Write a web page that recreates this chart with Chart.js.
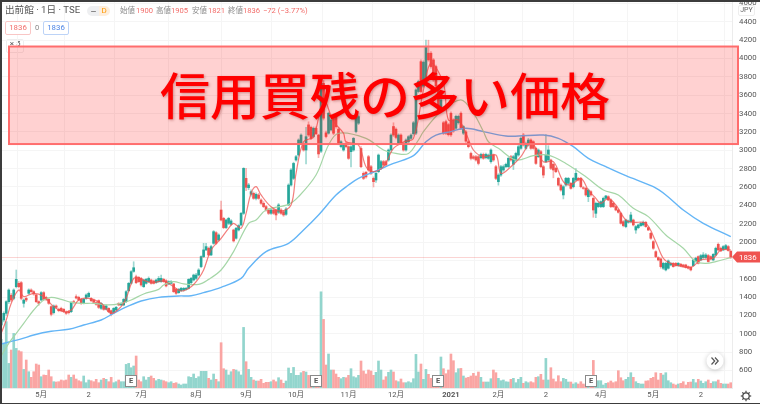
<!DOCTYPE html>
<html>
<head>
<meta charset="utf-8">
<title>出前館</title>
<script src="https://cdn.jsdelivr.net/npm/chart.js@4"></script>
<style>
html,body{margin:0;padding:0;background:#fff;overflow:hidden;}
#wrap{position:relative;width:760px;height:404px;font-family:Roboto,"Noto Sans CJK JP",sans-serif;filter:blur(0.4px);}
#c{position:absolute;left:0;top:0;z-index:2;}
.t{position:absolute;white-space:nowrap;line-height:1;z-index:3;}
.lab{color:#8a8a8a;font-size:7.5px;top:6.5px;}
.val{color:#f26d6a;font-size:7.6px;top:6.5px;}
.box{position:absolute;box-sizing:border-box;border-radius:2px;text-align:center;background:#fff;z-index:3;}
.edge{position:absolute;background:#3c3c3c;z-index:4;}
</style>
</head>
<body>
<div id="wrap">
<div class="t" style="left:5px;top:5px;font-size:9.6px;color:#555">出前館 · 1日 · TSE</div>
<div class="box" style="left:87px;top:6px;width:23px;height:10px;border-radius:5px;background:linear-gradient(90deg,#eeeff1 50%,#fdeedd 50%)"></div>
<div class="box" style="left:91px;top:10.5px;width:5px;height:1.5px;background:#888"></div>
<div class="t" style="left:101.5px;top:6.5px;font-size:8px;color:#ff9800">D</div>
<div class="t lab" style="left:120px">始値</div><div class="t val" style="left:136px">1900</div>
<div class="t lab" style="left:156px">高値</div><div class="t val" style="left:171px">1905</div>
<div class="t lab" style="left:192px">安値</div><div class="t val" style="left:208px">1821</div>
<div class="t lab" style="left:228px">終値</div><div class="t val" style="left:243px">1836</div>
<div class="t val" style="left:263px">−72 (−3.77%)</div>
<div class="box" style="left:5px;top:21px;width:26px;height:14px;border:1px solid #f9c6c5;color:#f26d6a;font-size:7.8px;line-height:12px">1836</div>
<div class="t" style="left:35px;top:24px;font-size:7.5px;color:#888">0</div>
<div class="box" style="left:43px;top:21px;width:26px;height:14px;border:1px solid #bcd3f7;color:#4c85e6;font-size:7.8px;line-height:12px">1836</div>
<div class="box" style="left:6px;top:39px;width:18px;height:14px;border:1px solid #eee;color:#555;font-size:8px;line-height:8px;z-index:1">× 5</div>
<canvas id="c" width="760" height="404"></canvas>
<div class="box" style="left:738px;top:5px;width:17px;height:11px;border:1px solid #eee;color:#666;font-size:7px;line-height:9px">JPY</div>
<div class="edge" style="left:0;top:0;width:760px;height:1.5px"></div>
<div class="edge" style="left:0;top:0;width:1.5px;height:404px"></div>
<div class="edge" style="left:0;top:402.5px;width:760px;height:1.5px"></div>
</div>
<script>
// daily candles
const opens = [
1096,1150,1223,1350,1420,1386,1513,1550,1557,1332,
1386,1441,1477,1459,1423,1350,1368,1448,1397,1375,
1296,1230,1303,1267,1277,1267,1237,1241,1241,1350,
1405,1397,1375,1332,1386,1405,1386,1368,1339,1361,
1277,1303,1267,1277,1252,1230,1259,1332,1314,1314,
1350,1470,1550,1680,1622,1615,1604,1513,1550,1568,
1586,1575,1557,1568,1568,1593,1579,1543,1550,1543,
1484,1448,1470,1477,1484,1495,1557,1586,1604,1640,
1732,1841,1914,1932,1859,1986,2102,2022,2349,2258,
2157,2204,2193,2131,2041,2131,2186,2313,2694,2592,
2520,2531,2476,2513,2458,2422,2386,2349,2313,2349,
2349,2324,2349,2331,2302,2404,2621,2694,2894,2948,
3075,3057,3003,3277,3250,3150,3240,3166,2990,3730,
3190,3186,3222,3366,3366,3230,3039,3003,3075,3039,
2985,3003,3204,3295,3020,2749,2760,2930,2821,2694,
2676,2767,2803,2876,2876,2894,3003,3259,3230,3075,
3166,3075,3003,3093,3130,3180,3186,3640,3966,3700,
3767,4058,4058,3985,3912,3700,3440,3300,3312,3280,
3404,3330,3240,3300,3404,3186,3200,3093,2966,2930,
2930,2930,2919,2955,2919,2912,2876,2948,2821,2658,
2730,2785,2821,2821,2930,2847,2894,2948,3021,3166,
3021,3057,3112,3093,3021,2930,2985,2821,2876,2894,
2894,2847,2803,2694,2621,2513,2621,2640,2640,2603,
2676,2694,2694,2592,2585,2494,2549,2476,2313,2386,
2386,2386,2476,2494,2458,2422,2386,2349,2313,2222,
2168,2215,2222,2240,2131,2157,2179,2186,2215,2157,
2095,2004,1895,1830,1816,1714,1696,1714,1750,1768,
1768,1743,1758,1750,1750,1732,1725,1743,1787,1841,
1805,1830,1830,1852,1841,1805,1859,1975,1932,1914,
1925,1950,1900];
const closes = [
1150,1223,1350,1477,1368,1477,1593,1513,1386,1368,
1368,1477,1459,1434,1350,1332,1448,1375,1375,1332,
1212,1303,1288,1252,1252,1241,1223,1230,1343,1339,
1390,1368,1332,1375,1423,1441,1361,1343,1321,1288,
1332,1266,1303,1241,1212,1277,1288,1314,1332,1375,
1459,1550,1677,1720,1557,1568,1532,1586,1593,1604,
1550,1550,1586,1604,1604,1568,1521,1568,1568,1459,
1441,1484,1495,1495,1495,1593,1604,1640,1640,1695,
1841,1914,1950,1859,1950,2113,1986,2077,2240,2157,
2240,2258,2230,2012,2150,2179,2313,2803,2596,2622,
2549,2476,2520,2476,2422,2386,2349,2313,2349,2313,
2295,2404,2313,2295,2360,2621,2785,2857,2930,3112,
3166,3003,3148,3166,3130,3240,3180,2960,3730,3350,
3150,3404,3331,3186,3257,3075,3093,3057,3039,2912,
3039,3130,3367,3367,2821,2694,2710,2785,2749,2658,
2749,2948,2876,2839,2839,3003,3166,3166,3140,3166,
3075,3003,3112,3148,3166,3300,3658,3750,3640,3960,
4130,3985,3912,3767,3700,3440,3550,3185,3185,3170,
3168,3210,3370,3370,3240,3258,3100,3039,2912,2912,
2894,2857,2955,2912,2955,2948,3003,2894,2694,2730,
2821,2821,2847,2912,2894,2930,2966,3039,3130,3057,
3075,3112,3021,3021,2857,3003,2821,2730,2948,3003,
2803,2785,2767,2621,2567,2603,2694,2694,2585,2694,
2749,2676,2603,2585,2513,2567,2513,2349,2422,2422,
2440,2476,2502,2458,2386,2386,2349,2324,2204,2179,
2240,2229,2295,2186,2168,2186,2204,2215,2168,2131,
2041,1932,1841,1805,1732,1768,1768,1794,1768,1732,
1743,1768,1739,1732,1721,1714,1696,1805,1823,1768,
1852,1859,1859,1787,1816,1866,1932,1914,1903,1950,
1961,1908,1836];
const highs = [
1170,1240,1360,1490,1440,1490,1695,1570,1570,1380,
1400,1490,1490,1470,1430,1360,1460,1460,1410,1385,
1305,1315,1315,1280,1290,1275,1250,1255,1350,1365,
1425,1410,1385,1385,1435,1455,1395,1380,1350,1370,
1340,1315,1315,1285,1260,1285,1300,1340,1340,1385,
1470,1560,1690,1785,1640,1625,1615,1595,1605,1620,
1595,1585,1595,1625,1640,1605,1590,1578,1580,1550,
1495,1495,1505,1505,1505,1600,1615,1650,1660,1710,
1850,1986,1986,1945,1965,2125,2115,2090,2447,2270,
2250,2270,2245,2140,2160,2190,2325,2810,2803,2640,
2570,2545,2535,2530,2470,2440,2400,2365,2365,2365,
2360,2420,2365,2345,2375,2635,2800,2870,2945,3125,
3180,3070,3250,3310,3265,3255,3255,3175,3770,3760,
3210,3415,3345,3380,3380,3245,3105,3070,3090,3050,
3050,3140,3380,3385,3040,2765,2770,2945,2835,2710,
2760,2960,2890,2890,2890,3015,3180,3300,3245,3180,
3180,3090,3125,3160,3180,3315,3670,3765,3985,3975,
4200,4200,4075,4000,3930,3715,3565,3315,3330,3295,
3420,3345,3385,3385,3420,3270,3215,3105,2980,2945,
2945,2945,2970,2970,2970,2960,3015,2960,2835,2745,
2835,2840,2860,2925,2945,2945,2980,3055,3145,3185,
3090,3130,3125,3105,3035,3015,3000,2835,3170,3050,
2905,2860,2815,2705,2635,2615,2705,2705,2650,2705,
2800,2705,2705,2605,2595,2580,2560,2490,2435,2435,
2450,2490,2510,2505,2470,2435,2395,2360,2325,2235,
2250,2240,2325,2250,2180,2195,2215,2230,2225,2165,
2105,2015,1905,1840,1825,1780,1780,1805,1780,1778,
1778,1778,1768,1758,1758,1740,1732,1815,1835,1850,
1865,1885,1875,1865,1850,1875,1945,1990,1945,1962,
1975,1962,1905];
const lows = [
1040,1130,1200,1330,1350,1370,1500,1500,1370,1290,
1350,1430,1450,1420,1340,1310,1360,1365,1360,1320,
1195,1215,1275,1240,1240,1230,1210,1215,1230,1325,
1380,1360,1320,1325,1375,1395,1350,1335,1310,1275,
1265,1255,1260,1230,1195,1220,1250,1305,1305,1305,
1340,1460,1540,1670,1545,1560,1520,1505,1540,1560,
1540,1542,1548,1560,1560,1560,1512,1535,1540,1450,
1430,1440,1460,1465,1475,1488,1545,1575,1590,1630,
1720,1830,1905,1850,1850,1975,1975,2010,2230,2145,
2145,2190,2180,2000,2030,2120,2175,2300,2560,2570,
2500,2465,2460,2465,2410,2375,2335,2300,2300,2300,
2240,2310,2300,2280,2290,2395,2610,2680,2880,2935,
3060,2990,2850,3150,3115,3135,3170,2920,2975,3330,
3135,3175,3210,3170,3240,3060,3025,2990,3025,2900,
2820,2990,3190,3280,2810,2680,2695,2770,2735,2600,
2650,2755,2790,2825,2825,2880,2990,3150,3125,3060,
3060,2990,2990,3080,3115,3165,3170,3625,3625,3685,
3750,3970,3895,3750,3685,3425,3425,3170,3170,3155,
3150,3195,3225,3285,3225,3170,3085,3025,2895,2900,
2880,2840,2905,2900,2905,2900,2860,2880,2680,2620,
2715,2770,2810,2810,2880,2790,2880,2935,3010,3045,
3010,3045,3010,3010,2845,2920,2810,2700,2865,2880,
2790,2700,2755,2610,2555,2470,2610,2625,2575,2590,
2665,2665,2590,2575,2500,2440,2500,2270,2265,2375,
2375,2375,2465,2450,2375,2375,2340,2315,2195,2165,
2155,2205,2210,2175,2095,2145,2170,2175,2160,2125,
2030,1920,1830,1795,1715,1700,1685,1705,1740,1725,
1735,1735,1730,1725,1715,1705,1685,1735,1780,1760,
1795,1820,1820,1780,1805,1795,1850,1905,1895,1905,
1918,1900,1821];
const volumes = [
486,440,663,246,380,546,396,373,363,186,
280,163,107,163,240,230,113,130,127,180,
113,63,60,63,80,73,80,130,107,130,
90,73,63,120,53,80,73,63,87,53,
80,97,87,63,107,53,63,80,63,63,
236,246,203,220,320,80,63,113,80,107,
120,97,73,87,80,73,63,53,63,47,
53,40,30,40,40,113,107,140,97,113,
167,167,167,97,80,140,87,63,453,193,
180,130,163,186,180,163,130,606,263,186,
107,80,70,70,87,47,57,57,63,80,
63,103,80,47,70,200,147,206,127,127,
153,167,160,127,113,113,107,107,962,686,
230,340,180,180,140,107,93,107,103,127,
193,113,103,127,270,170,140,180,170,127,
157,270,180,80,113,157,180,160,73,63,
90,53,53,63,53,93,336,160,240,87,
186,137,97,120,97,97,310,193,143,180,
340,273,153,193,196,120,100,107,120,147,
120,160,107,60,60,60,93,180,153,97,
73,80,63,60,87,97,53,87,107,47,
63,53,63,53,107,113,137,80,296,80,
203,90,63,123,63,97,87,60,60,40,
53,40,63,40,30,47,30,276,63,73,
73,30,47,53,70,53,63,173,103,73,
87,107,153,107,63,47,40,40,70,73,
97,107,153,80,147,130,153,73,53,40,
30,40,47,63,30,57,60,87,53,87,
70,47,63,80,47,63,63,80,47,40,
40,40,53];

// moving averages, read at the bends of each curve
const ma5Days = [0,2,4,7,9,13,17,21,25,28,31,35,40,44,48,50,53,55,60,65,69,72,76,79,81,84,88,91,93,96,98,100,102,104,108,112,116,118,121,125,129,133,137,138,143,146,149,153,157,161,165,169,172,177,179,183,186,189,193,198,200,204,208,212,214,217,221,225,228,232,235,238,240,243,246,250,253,258,262,265,268,276,280,285,288,292];
const ma5Vals = [1005,1150,1332,1477,1405,1441,1405,1296,1241,1259,1368,1386,1332,1223,1296,1386,1604,1604,1557,1575,1513,1466,1513,1604,1695,1914,2041,2150,2204,2150,2313,2531,2603,2513,2385,2338,2404,2749,3093,3148,3549,3313,3186,3093,3057,2821,2767,2821,3020,3090,3130,3658,3948,3730,3331,3331,3186,3003,2930,2948,2749,2821,2930,3093,3021,2876,2876,2658,2621,2694,2567,2476,2422,2476,2404,2240,2215,2204,2004,1823,1768,1725,1805,1823,1914,1914];
const ma25Days = [0,3,6,9,13,17,20,24,28,32,37,43,48,52,57,63,65,69,73,79,83,88,93,99,102,106,115,119,126,131,135,146,153,158,163,167,169,176,184,189,193,195,199,206,213,219,226,234,241,247,253,259,266,273,278,282,286,292];
const ma25Vals = [759,896,1005,1114,1259,1368,1397,1375,1343,1332,1332,1314,1332,1368,1434,1484,1532,1568,1543,1539,1593,1695,1896,2204,2240,2349,2411,2494,2730,3057,3186,3130,3003,2966,2966,3112,3204,3422,3549,3404,3204,3093,3021,2894,2941,2948,2857,2712,2567,2512,2367,2277,2077,1932,1787,1768,1787,1830];
const ma75Days = [0,8,13,20,27,33,40,45,51,56,63,71,76,81,88,96,99,106,115,121,127,134,139,143,150,157,165,170,174,180,186,193,202,207,217,223,229,235,242,250,261,266,273,281,292];
const ma75Vals = [889,944,987,1027,1049,1096,1150,1223,1303,1357,1397,1412,1415,1448,1506,1604,1714,1896,1986,2131,2295,2512,2621,2694,2774,2857,2941,3093,3166,3204,3240,3204,3155,3155,3166,3130,3039,2912,2821,2723,2603,2513,2349,2204,2059];

const monthDays = [16,35,56,78,98,118,139,158,180,199,218,240,261,280];
const monthLabels = ['5月','2','7月','8月','9月','10月','11月','12月','2021','2月','2','4月','5月','2'];
const priceTicks = [600,800,1000,1200,1400,1600,1800,2000,2200,2400,2600,2800,3000,3200,3400,3600,3800,4000,4200,4400,4600];
const earningsDays = [52,126,175,236];
const lastPrice = 1836;
const zoneLow = 3068, zoneHigh = 4131;
const zoneTitle = '信用買残の多い価格';

const UP = '#26a69a', DOWN = '#ef5350';
const days = opens.map((_, i) => i);
const isUp = days.map(i => closes[i] >= opens[i]);

const overlay = {
  id: 'overlay',
  afterDatasetsDraw(chart) {
    const ctx = chart.ctx, x = chart.scales.x, y = chart.scales.y;
    // earnings flags
    ctx.save();
    earningsDays.forEach(d => {
      const cx = Math.round(x.getPixelForValue(d));
      ctx.fillStyle = '#fff';
      ctx.strokeStyle = '#8a8a8a';
      ctx.lineWidth = 1;
      ctx.fillRect(cx - 5.5, 375.5, 11, 11);
      ctx.strokeRect(cx - 5.5, 375.5, 11, 11);
      ctx.fillStyle = '#555';
      ctx.font = 'bold 7.5px Roboto';
      ctx.textAlign = 'center';
      ctx.textBaseline = 'middle';
      ctx.fillText('E', cx, 381.5);
    });
    // last price line
    const py = y.getPixelForValue(lastPrice);
    ctx.strokeStyle = 'rgba(239,83,80,0.25)';
    ctx.beginPath();
    ctx.moveTo(0, Math.round(py) + 0.5);
    ctx.lineTo(732, Math.round(py) + 0.5);
    ctx.stroke();
    // scroll button
    ctx.save();
    ctx.shadowColor = 'rgba(0,0,0,0.22)';
    ctx.shadowBlur = 5;
    ctx.shadowOffsetY = 1;
    ctx.fillStyle = '#fff';
    ctx.beginPath();
    ctx.arc(715, 361, 8.5, 0, Math.PI * 2);
    ctx.fill();
    ctx.restore();
    ctx.strokeStyle = '#555';
    ctx.lineWidth = 1.2;
    [711.5, 715].forEach(a => {
      ctx.beginPath();
      ctx.moveTo(a, 357.5);
      ctx.lineTo(a + 3.2, 361);
      ctx.lineTo(a, 364.5);
      ctx.stroke();
    });
    ctx.restore();
  },
  afterDraw(chart) {
    const ctx = chart.ctx, y = chart.scales.y;
    const py = y.getPixelForValue(lastPrice);
    ctx.save();
    // price tag
    ctx.fillStyle = DOWN;
    ctx.beginPath();
    ctx.moveTo(732, py);
    ctx.lineTo(737, py - 5.5);
    ctx.lineTo(760, py - 5.5);
    ctx.lineTo(760, py + 5.5);
    ctx.lineTo(737, py + 5.5);
    ctx.closePath();
    ctx.fill();
    ctx.fillStyle = '#fff';
    ctx.font = '7.8px Roboto';
    ctx.textAlign = 'left';
    ctx.textBaseline = 'middle';
    ctx.fillText(String(lastPrice), 739, py + 0.5);
    // gear
    ctx.strokeStyle = '#444';
    ctx.lineWidth = 1.2;
    ctx.beginPath();
    ctx.arc(746, 396, 3.2, 0, Math.PI * 2);
    ctx.stroke();
    for (let k = 0; k < 8; k++) {
      const a = k * Math.PI / 4;
      ctx.beginPath();
      ctx.moveTo(746 + Math.cos(a) * 3.2, 396 + Math.sin(a) * 3.2);
      ctx.lineTo(746 + Math.cos(a) * 5.2, 396 + Math.sin(a) * 5.2);
      ctx.stroke();
    }
    // red zone and its title
    const top = y.getPixelForValue(zoneHigh), bot = y.getPixelForValue(zoneLow);
    ctx.fillStyle = 'rgba(255,0,0,0.18)';
    ctx.fillRect(9, top, 729, bot - top);
    ctx.strokeStyle = '#ff6d6d';
    ctx.lineWidth = 2;
    ctx.strokeRect(9, top, 729, bot - top);
    ctx.shadowColor = 'rgba(120,0,0,0.35)';
    ctx.shadowBlur = 3;
    ctx.shadowOffsetX = 1;
    ctx.shadowOffsetY = 1;
    ctx.fillStyle = '#ff0000';
    ctx.font = '500 50px "Noto Sans CJK JP"';
    ctx.textAlign = 'center';
    ctx.textBaseline = 'middle';
    ctx.fillText(zoneTitle, 385, 96);
    ctx.restore();
  }
};

new Chart(document.getElementById('c'), {
  type: 'bar',
  data: {
    datasets: [
      {
        label: 'ma5', type: 'line', order: 1, yAxisID: 'y',
        data: ma5Days.map((d, k) => ({x: d, y: ma5Vals[k]})),
        borderColor: 'rgba(239,83,80,0.75)', borderWidth: 1.2, pointRadius: 0, tension: 0.35
      },
      {
        label: 'ma25', type: 'line', order: 1, yAxisID: 'y',
        data: ma25Days.map((d, k) => ({x: d, y: ma25Vals[k]})),
        borderColor: '#a5d6a7', borderWidth: 1.2, pointRadius: 0, tension: 0.35
      },
      {
        label: 'ma75', type: 'line', order: 1, yAxisID: 'y',
        data: ma75Days.map((d, k) => ({x: d, y: ma75Vals[k]})),
        borderColor: '#64b5f6', borderWidth: 1.4, pointRadius: 0, tension: 0.35
      },
      {
        label: 'body', order: 2, yAxisID: 'y', grouped: false, barThickness: 2,
        data: days.map(i => ({x: i, y: [opens[i], closes[i]]})),
        backgroundColor: isUp.map(u => u ? UP : DOWN)
      },
      {
        label: 'wick', order: 3, yAxisID: 'y', grouped: false, barThickness: 1,
        data: days.map(i => ({x: i, y: [lows[i], highs[i]]})),
        backgroundColor: isUp.map(u => u ? 'rgba(38,166,154,0.45)' : 'rgba(239,83,80,0.45)')
      },
      {
        label: 'volume', order: 4, yAxisID: 'v', grouped: false, barThickness: 2,
        data: days.map(i => ({x: i, y: volumes[i]})),
        backgroundColor: isUp.map(u => u ? '#92d5cd' : '#faa5a3')
      }
    ]
  },
  options: {
    responsive: false,
    animation: false,
    layout: {padding: 0},
    plugins: {legend: {display: false}, tooltip: {enabled: false}},
    scales: {
      x: {
        type: 'linear',
        offset: false,
        min: -0.5,
        max: 292.5,
        afterFit(a) { a.height = 16; a.paddingLeft = 0; a.paddingRight = 0; },
        afterBuildTicks(a) { a.ticks = monthDays.map(v => ({value: v})); },
        grid: {color: '#f5f5f5', drawTicks: false},
        border: {color: '#ececec'},
        ticks: {
          autoSkip: false,
          maxRotation: 0,
          padding: 3,
          color: '#555',
          font: c => ({family: 'Roboto, "Noto Sans CJK JP"', size: 7.6, weight: c.tick && c.tick.label === '2021' ? 'bold' : 'normal'}),
          callback: v => monthLabels[monthDays.indexOf(v)]
        }
      },
      y: {
        position: 'right',
        min: 409,
        max: 4638,
        afterFit(a) { a.width = 28; a.paddingTop = 0; a.paddingBottom = 0; },
        afterBuildTicks(a) { a.ticks = priceTicks.map(v => ({value: v})); },
        grid: {color: '#f5f5f5', drawTicks: false},
        border: {color: '#ececec'},
        ticks: {autoSkip: false, padding: 7, color: '#555', font: {family: 'Roboto', size: 7.8}, callback: v => String(v)}
      },
      v: {display: false, position: 'left', min: 0, max: 3880}
    }
  },
  plugins: [overlay]
});
</script>
</body>
</html>
